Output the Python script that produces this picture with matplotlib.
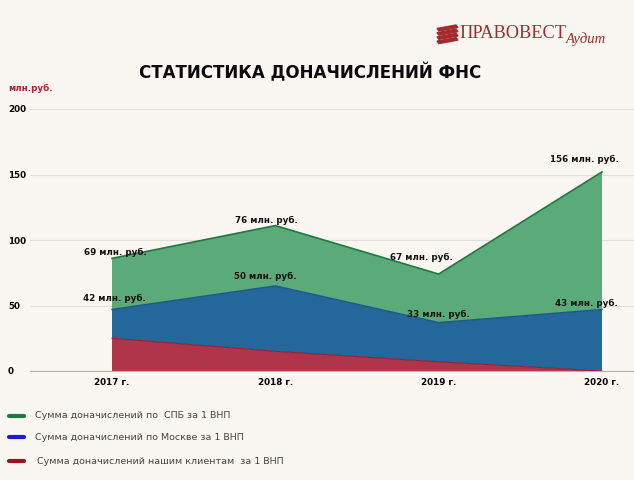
import matplotlib.pyplot as plt
from matplotlib.lines import Line2D
from matplotlib.patches import Polygon

W, H = 634, 480

# data (stacked layers)
years = ['2017 г.', '2018 г.', '2019 г.', '2020 г.']
clients = [25, 15, 7, 0]
moscow = [22, 50, 30, 47]
spb = [39, 46, 37, 105]
moscow_labels = ['42 млн. руб.', '50 млн. руб.', '33 млн. руб.', '43 млн. руб.']
spb_labels = ['69 млн. руб.', '76 млн. руб.', '67 млн. руб.', '156 млн. руб.']
legend_texts = ['Сумма доначислений по  СПБ за 1 ВНП',
                'Сумма доначислений по Москве за 1 ВНП',
                'Сумма доначислений нашим клиентам  за 1 ВНП']

bg = '#faf7f3'
fig = plt.figure(figsize=(W / 100, H / 100), dpi=100, facecolor=bg)

def fx(px):
    return px / W

def fy(py):
    return 1 - py / H

ax = fig.add_axes([fx(30), fy(371), fx(634) - fx(30), fy(109) - fy(371)])
ax.set_facecolor('none')

x = list(range(len(years)))
ax.stackplot(x, clients, moscow, spb,
             colors=['#b0344a', '#24679b', '#5aab79'], zorder=2)

top1 = clients
top2 = [a + b for a, b in zip(clients, moscow)]
top3 = [a + b for a, b in zip(top2, spb)]
ax.plot(x, top1, color='#8e2236', lw=0.8, zorder=3)
ax.plot(x, top2, color='#1d5a88', lw=1.0, zorder=3)
ax.plot(x, top3, color='#1f7a3f', lw=1.2, zorder=3)

# value labels
spb_off = [(3, 6), (-9, 5), (-17, 17), (-18, 12)]
msk_off = [(2, 11), (-10, 9), (0, 8), (-16, 6)]
for i in x:
    ax.annotate(spb_labels[i], (i, top3[i]), xytext=spb_off[i],
                textcoords='offset pixels', ha='center', va='center',
                fontsize=6.3, fontweight='bold', color='#111111', zorder=5)
    ax.annotate(moscow_labels[i], (i, top2[i]), xytext=msk_off[i],
                textcoords='offset pixels', ha='center', va='center',
                fontsize=6.3, fontweight='bold', color='#111111', zorder=5)

ax.set_xlim(-0.502, 3.196)
ax.set_ylim(0, 200)
ax.set_yticks([0, 50, 100, 150, 200])
ax.set_xticks(x)
ax.set_xticklabels(years)
ax.grid(axis='y', color='#e2ddd8', lw=0.8, zorder=0)
ax.set_axisbelow(True)
for s in ['top', 'right', 'left']:
    ax.spines[s].set_visible(False)
ax.spines['bottom'].set_color('#b5b0ab')
ax.spines['bottom'].set_linewidth(0.8)
ax.spines['bottom'].set_zorder(4)
ax.tick_params(axis='y', length=0, pad=15.8, labelsize=6.3)
ax.tick_params(axis='x', length=0, pad=5, labelsize=6.3)
for lbl in ax.get_yticklabels():
    lbl.set_ha('left')
    lbl.set_fontweight('bold')
for lbl in ax.get_xticklabels():
    lbl.set_fontweight('bold')

# title and unit
fig.text(fx(310), fy(73), 'СТАТИСТИКА ДОНАЧИСЛЕНИЙ ФНС', ha='center', va='center',
         fontsize=12, fontweight='bold', color='#0a0a0a')
fig.text(fx(8), fy(88), 'млн.руб.', ha='left', va='center',
         fontsize=6.3, fontweight='bold', color='#a3282e')

# logo
red = '#a32a2e'
for k in range(4):
    y0 = 25 + k * 4.2
    pts = [(fx(437), fy(y0 + 3.5)), (fx(456), fy(y0)), (fx(458), fy(y0 + 2.5)),
           (fx(439), fy(y0 + 6))]
    fig.add_artist(Polygon(pts, closed=True, color=red, transform=fig.transFigure))
fig.text(fx(459), fy(33), 'ПРАВОВЕСТ', ha='left', va='center',
         family='Liberation Serif', fontsize=13.2, color=red)
fig.text(fx(566), fy(39), 'Аудит', ha='left', va='center',
         family='Liberation Serif', style='italic', fontsize=10.5, color=red)

# legend
leg_colors = ['#1f7a3f', '#1c1ccf', '#8e1c1c']
leg_y = [416, 437, 461]
leg_tx = [35, 35, 37]
for c, yy, tx, t in zip(leg_colors, leg_y, leg_tx, legend_texts):
    fig.add_artist(Line2D([fx(9), fx(24)], [fy(yy), fy(yy)], color=c, lw=3,
                          solid_capstyle='round', transform=fig.transFigure))
    fig.text(fx(tx), fy(yy), t, ha='left', va='center', fontsize=6.8, color='#444444')

fig.savefig('out.png', dpi=100, facecolor=bg)
